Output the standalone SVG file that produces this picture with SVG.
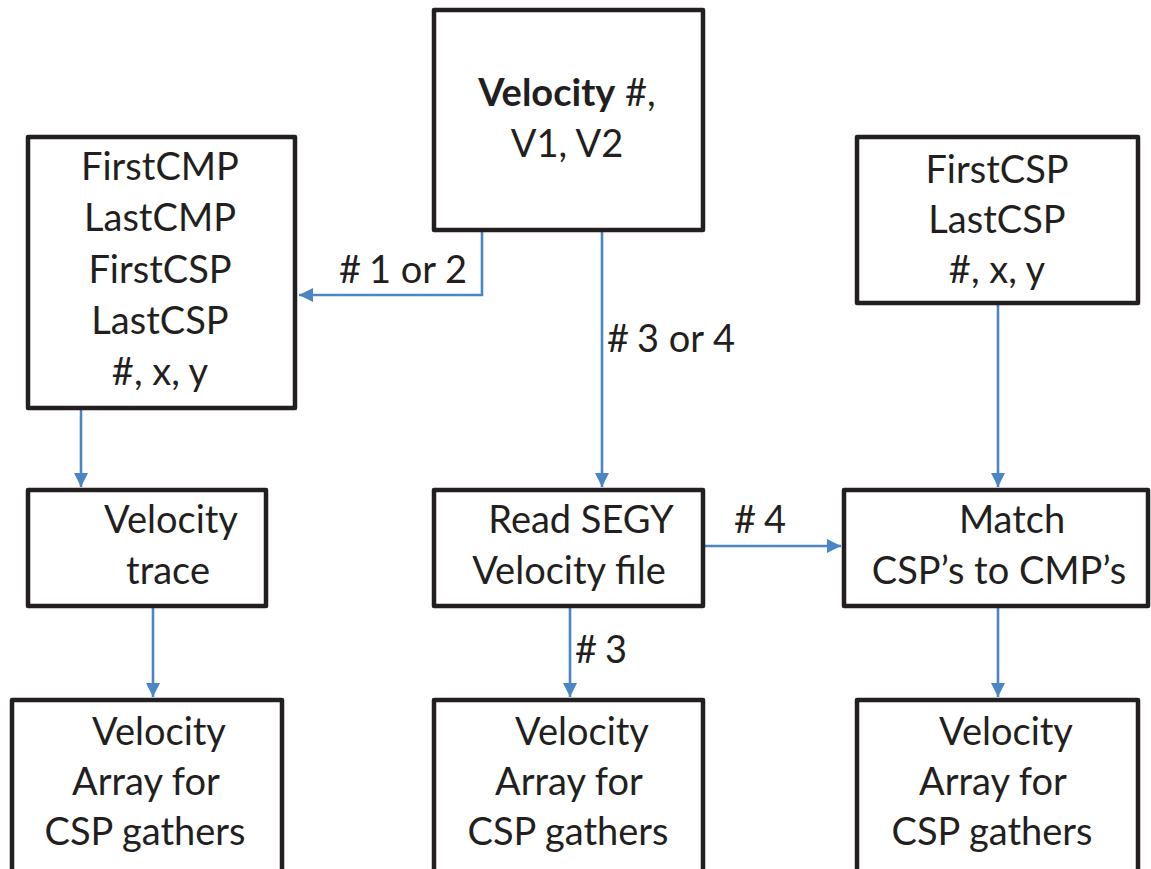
<svg xmlns="http://www.w3.org/2000/svg" width="1151" height="869" viewBox="0 0 1151 869">
<style>
.box{fill:#fff;stroke:#231f20;stroke-width:4.5;stroke-linejoin:round}
.t{font-family:Lato,"Liberation Sans",sans-serif;font-size:38px;fill:#231f20;text-anchor:middle}
.c{fill:none;stroke:#4a86c5;stroke-width:2.6}
</style>
<defs>
<marker id="ah" viewBox="0 0 10 10" refX="10" refY="5" markerWidth="5.5" markerHeight="5.5" orient="auto" markerUnits="strokeWidth">
<path d="M0,0 L10,5 L0,10 z" fill="#4a86c5"/>
</marker>
</defs>
<rect width="1151" height="869" fill="#fff"/>
<g id="connectors">
<path class="c" d="M482,232 V295 H299" marker-end="url(#ah)"/>
<path class="c" d="M602,232 V487" marker-end="url(#ah)"/>
<path class="c" d="M81,408 V487" marker-end="url(#ah)"/>
<path class="c" d="M998,303 V487" marker-end="url(#ah)"/>
<path class="c" d="M704,546 H841" marker-end="url(#ah)"/>
<path class="c" d="M153,607 V697" marker-end="url(#ah)"/>
<path class="c" d="M570,607 V697" marker-end="url(#ah)"/>
<path class="c" d="M998,607 V697" marker-end="url(#ah)"/>
<text class="t" x="403" y="283">#<tspan dx="8">1 or 2</tspan></text>
<text class="t" x="671" y="352">#<tspan dx="8">3 or 4</tspan></text>
<text class="t" x="760" y="533">#<tspan dx="8">4</tspan></text>
<text class="t" x="601" y="663">#<tspan dx="8">3</tspan></text>
</g>
<g id="velocity">
<rect class="box" x="434" y="10" width="269" height="220"/>
<text class="t" x="567" y="106"><tspan font-weight="bold">Velocity</tspan> #,</text>
<text class="t" x="567" y="157">V1, V2</text>
</g>
<g id="cmp-params">
<rect class="box" x="28" y="137" width="267" height="271"/>
<text class="t" x="160" y="180">FirstCMP</text>
<text class="t" x="160" y="231">LastCMP</text>
<text class="t" x="160" y="283">FirstCSP</text>
<text class="t" x="160" y="334">LastCSP</text>
<text class="t" x="160" y="385">#, x, y</text>
</g>
<g id="csp-params">
<rect class="box" x="857" y="137" width="281" height="166"/>
<text class="t" x="997" y="183">FirstCSP</text>
<text class="t" x="997" y="233">LastCSP</text>
<text class="t" x="997" y="283">#, x, y</text>
</g>
<g id="velocity-trace">
<rect class="box" x="28" y="490" width="238" height="116"/>
<text class="t" x="171" y="533">Velocity</text>
<text class="t" x="168" y="584">trace</text>
</g>
<g id="read-segy">
<rect class="box" x="434" y="490" width="269" height="116"/>
<text class="t" x="581" y="533">Read SEGY</text>
<text class="t" x="569" y="584">Velocity file</text>
</g>
<g id="match">
<rect class="box" x="844" y="490" width="304" height="116"/>
<text class="t" x="1012" y="533">Match</text>
<text class="t" x="999" y="584">CSP’s to CMP’s</text>
</g>
<g id="array-left">
<rect class="box" x="12" y="700" width="270" height="175"/>
<text class="t" x="159" y="745">Velocity</text>
<text class="t" x="146" y="795">Array for</text>
<text class="t" x="145" y="845">CSP gathers</text>
</g>
<g id="array-mid">
<rect class="box" x="434" y="700" width="269" height="175"/>
<text class="t" x="582" y="745">Velocity</text>
<text class="t" x="569" y="795">Array for</text>
<text class="t" x="568" y="845">CSP gathers</text>
</g>
<g id="array-right">
<rect class="box" x="857" y="700" width="281" height="175"/>
<text class="t" x="1006" y="745">Velocity</text>
<text class="t" x="993" y="795">Array for</text>
<text class="t" x="992" y="845">CSP gathers</text>
</g>
</svg>
